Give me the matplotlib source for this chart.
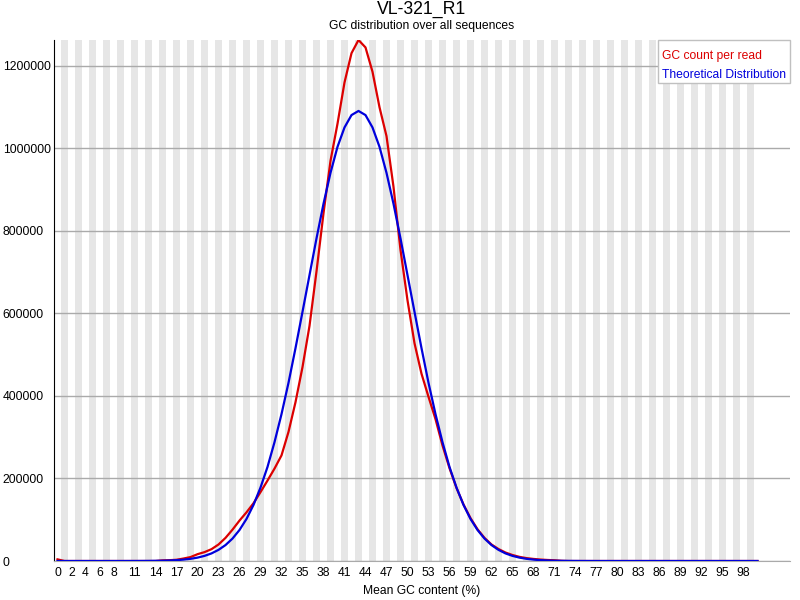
# gc_content_plot.py
# Per-sequence GC content (FastQC style): observed vs theoretical distribution

import numpy as np
import matplotlib.pyplot as plt
from matplotlib.patches import Rectangle

plt.rcParams["font.family"] = ["Liberation Sans", "DejaVu Sans"]

TITLE = "VL-321_R1"
SUBTITLE = "GC distribution over all sequences"
X_LABEL = "Mean GC content (%)"

# mean GC content categories 0..100 %
gc_percent = np.arange(101)

# GC count per read
gc_count = [
    4000, 0, 0, 0, 0, 0, 0, 0, 0, 0,
    0, 0, 0, 0, 0, 1500, 2000, 3000, 6000, 9500,
    16500, 21500, 28700, 40000, 56000, 76000, 98000, 118000, 140000, 167000,
    195000, 224000, 256000, 313000, 385000, 470000, 570000, 702000, 843000, 970000,
    1060000, 1160000, 1231000, 1263000, 1245000, 1186000, 1100000, 1030000, 907000, 754000,
    632000, 528000, 454000, 398000, 344000, 280000, 225000, 177000, 137000, 104000,
    77000, 56000, 40000, 29000, 20500, 14500, 10000, 7000, 5000, 3500,
    2500, 1800, 500, 0, 0, 0, 0, 0, 0, 0,
    0, 0, 0, 0, 0, 0, 0, 0, 0, 0,
    0, 0, 0, 0, 0, 0, 0, 0, 0, 0,
    0,
]

# theoretical (normal) distribution
theoretical = [
    0, 0, 0, 0, 0, 0, 0, 0, 0, 0,
    40, 80, 150, 260, 450, 770, 1280, 2090, 3350, 5280,
    8160, 12400, 18400, 27000, 38600, 54400, 75200, 102000, 136000, 178000,
    228000, 288000, 356000, 432000, 516000, 604000, 693000, 782000, 866000, 941000,
    1004000, 1051000, 1081000, 1091000, 1081000, 1051000, 1004000, 941000, 866000, 782000,
    693000, 604000, 516000, 432000, 356000, 288000, 228000, 178000, 136000, 102000,
    75200, 54400, 38600, 27000, 18400, 12400, 8160, 5280, 3350, 2090,
    1280, 770, 450, 260, 150, 80, 40, 0, 0, 0,
    0, 0, 0, 0, 0, 0, 0, 0, 0, 0,
    0, 0, 0, 0, 0, 0, 0, 0, 0, 0,
    0,
]

x_tick_values = [0, 2, 4, 6, 8] + list(range(11, 99, 3))
y_tick_values = [0, 200000, 400000, 600000, 800000, 1000000, 1200000]

RED = "#dc0000"
BLUE = "#0000dc"


def main():
    fig = plt.figure(figsize=(8, 6), dpi=100)
    # plot area in pixels: x 54..790, y 40..561
    ax = fig.add_axes([54 / 800, 39 / 600, 736 / 800, 521 / 600])

    # alternating grey stripes, one per category
    for i in gc_percent:
        if i % 2 == 1:
            ax.axvspan(i - 0.5, i + 0.5, color="#e6e6e6", lw=0, zorder=0)

    for y in y_tick_values:
        ax.axhline(y, color="#aaaaaa", lw=1, zorder=1)

    ax.plot(gc_percent, gc_count, color=RED, lw=1.6, zorder=3)
    ax.plot(gc_percent, theoretical, color=BLUE, lw=1.6, zorder=4)

    ax.set_xlim(-0.5, 736 / 7 - 0.5)
    ax.set_ylim(0, max(gc_count))

    ax.set_xticks(x_tick_values)
    ax.set_xticklabels([str(v) for v in x_tick_values], fontsize=8.7)
    ax.set_yticks(y_tick_values)
    ax.set_yticklabels([str(v) for v in y_tick_values], fontsize=8.7)
    for lab in ax.get_yticklabels():
        lab.set_horizontalalignment("left")
    ax.tick_params(axis="x", length=0, pad=4)
    ax.tick_params(axis="y", length=0, pad=37)

    for side in ["top", "right"]:
        ax.spines[side].set_visible(False)
    ax.spines["left"].set_color("black")
    ax.spines["bottom"].set_color("#aaaaaa")

    # legend box, top right
    ax.add_patch(Rectangle((604 / 736, 1 - 43 / 521), 132 / 736, 43 / 521,
                           transform=ax.transAxes, facecolor="white",
                           edgecolor="#c0c0c0", lw=1, zorder=5, clip_on=False))
    ax.text(608 / 736, 1 - 16 / 521, "GC count per read", color=RED,
            fontsize=8.7, va="center", ha="left", transform=ax.transAxes, zorder=6)
    ax.text(608 / 736, 1 - 35 / 521, "Theoretical Distribution", color=BLUE,
            fontsize=8.7, va="center", ha="left", transform=ax.transAxes, zorder=6)

    fig.text(422 / 800, 1 - 9 / 600, TITLE, ha="center", va="center", fontsize=12.7)
    fig.text(422 / 800, 1 - 26 / 600, SUBTITLE, ha="center", va="center", fontsize=8.7)
    fig.text(422 / 800, 1 - 591 / 600, X_LABEL, ha="center", va="center", fontsize=8.7)

    fig.savefig("out.png", dpi=100)


if __name__ == "__main__":
    main()
